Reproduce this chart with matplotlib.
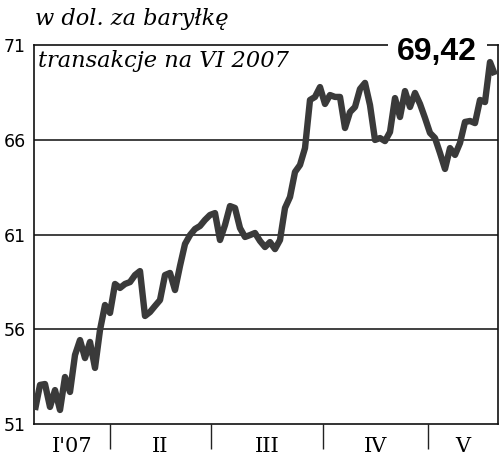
#!/usr/bin/env python3
"""Cena ropy (kontrakt VI 2007), w dol. za baryłkę."""
import matplotlib.pyplot as plt
import numpy as np

# notowania co sesję, od połowy stycznia do końca maja 2007
ceny = [
    51.74, 53.06, 53.11, 51.90, 52.79, 51.74, 53.48, 52.69, 54.64, 55.43,
    54.48, 55.33, 53.96, 55.96, 57.28, 56.86, 58.39, 58.18, 58.39, 58.49,
    58.86, 59.07, 56.70, 56.91, 57.23, 57.54, 58.86, 58.97, 58.07, 59.34,
    60.50, 60.97, 61.29, 61.45, 61.77, 62.03, 62.13, 60.71, 61.50, 62.50,
    62.40, 61.34, 60.87, 60.97, 61.08, 60.66, 60.34, 60.60, 60.23, 60.71,
    62.40, 62.98, 64.30, 64.67, 65.56, 68.10, 68.26, 68.78, 67.89, 68.36,
    68.26, 68.26, 66.62, 67.46, 67.73, 68.68, 69.00, 67.83, 65.99, 66.09,
    65.93, 66.41, 68.20, 67.20, 68.57, 67.73, 68.47, 67.89, 67.15, 66.36,
    66.09, 65.30, 64.46, 65.56, 65.20, 65.83, 66.94, 66.99, 66.88, 68.10,
    67.99, 70.10, 69.42,
]
# granice miesięcy (w numerach sesji)
granice = [15.0, 35.2, 57.6, 78.6]
miesiace = ["I'07", "II", "III", "IV", "V"]
y_ticks = [51, 56, 61, 66, 71]
ostatnia = "69,42"


def main() -> None:
    fig = plt.figure(figsize=(5.0, 4.57), dpi=100)
    ax = fig.add_axes([0.068, 0.0722, 0.928, 0.8293])

    x = np.arange(len(ceny))
    ax.plot(x, ceny, color="#3a3a3a", linewidth=4.6, solid_joinstyle="round",
            solid_capstyle="butt", zorder=3)

    x0, x1 = -0.2, 92.6
    ax.set_xlim(x0, x1)
    ax.set_ylim(51, 71)

    for v in y_ticks[1:-1]:
        ax.axhline(v, color="#404040", linewidth=1.4, zorder=1)

    ax.set_yticks(y_ticks)
    ax.set_yticklabels([str(v) for v in y_ticks], fontsize=12.5,
                       family="DejaVu Sans")
    ax.tick_params(axis="y", length=0, pad=6)

    ax.set_xticks(granice)
    ax.set_xticklabels([])
    ax.tick_params(axis="x", direction="out", length=18, width=1.0,
                   color="#222222")

    srodki = [(a + b) / 2 for a, b in zip([x0] + granice, granice + [x1])]
    for pos, lab in zip(srodki, miesiace):
        ax.text(pos, -0.06, lab, transform=ax.get_xaxis_transform(),
                ha="center", va="center", fontsize=15, family="DejaVu Serif")

    for side in ["left", "bottom", "right", "top"]:
        ax.spines[side].set_color("#111111")
        ax.spines[side].set_linewidth(1.2)

    ax.text(0.869, 0.96, ostatnia, transform=ax.transAxes, ha="center",
            va="baseline", fontsize=23, fontweight="bold",
            family="Liberation Sans", zorder=2.6,
            bbox=dict(facecolor="white", edgecolor="none", pad=7))

    fig.text(0.07, 0.945, "w dol. za baryłkę", fontsize=16.2, style="italic",
             family="DejaVu Serif", va="baseline")
    fig.text(0.076, 0.8534, "transakcje na VI 2007", fontsize=16.2,
             style="italic", family="DejaVu Serif", va="baseline")

    fig.savefig("out.png", dpi=100)
    plt.close(fig)


if __name__ == "__main__":
    main()
